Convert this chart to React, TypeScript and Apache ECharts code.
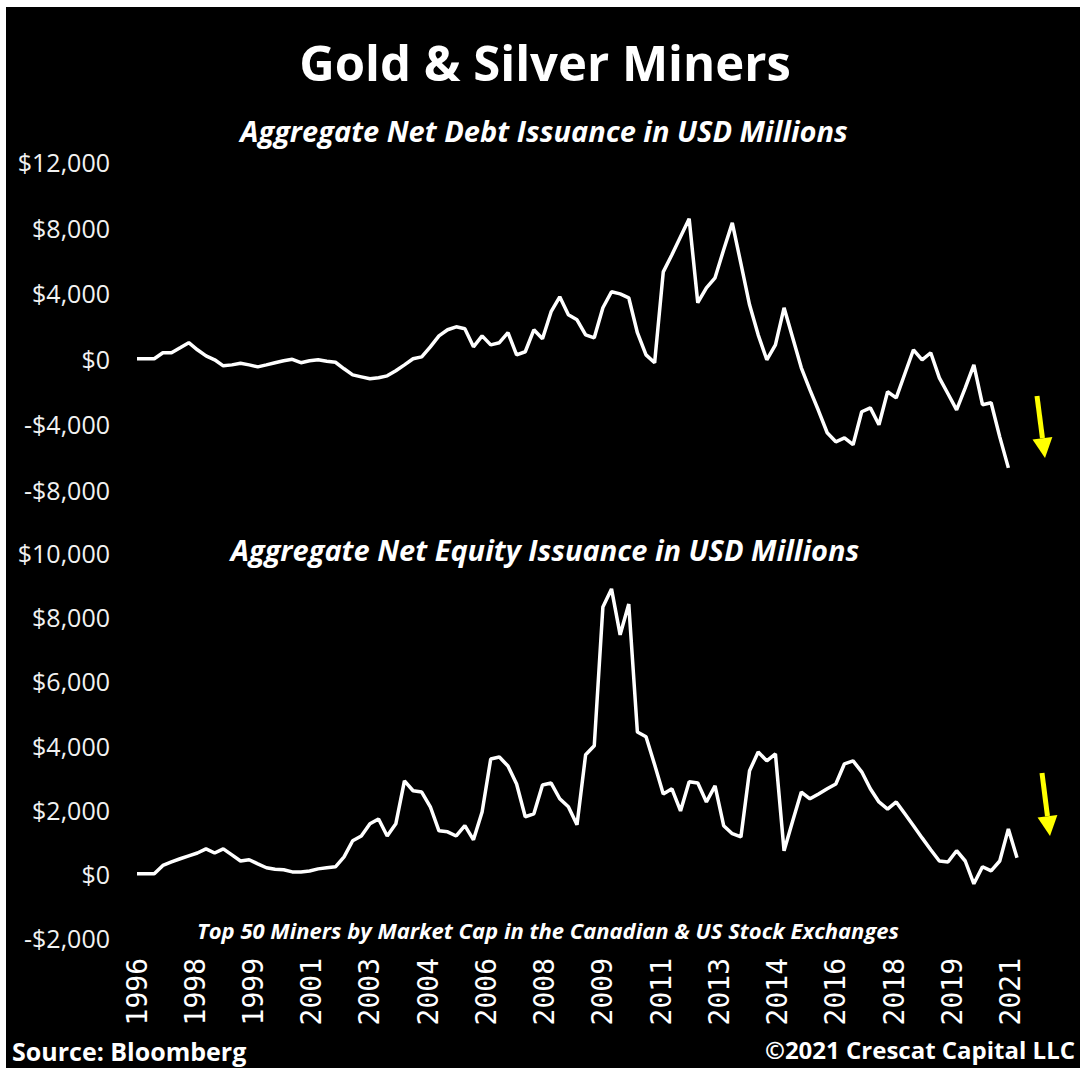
import React, { useEffect, useRef } from "react";
import * as echarts from "echarts";

// Aggregate Net Debt Issuance (USD millions), quarterly from 1996
const debtIssuance = [
  0, 0, 0, 370, 370, 670, 980, 550, 180, -60,
  -430, -370, -270, -370, -490, -370, -240, -120, -30, -240,
  -120, -60, -150, -210, -610, -980, -1100, -1220, -1160, -1040,
  -730, -370, 0, 120, 730, 1400, 1770, 1950, 1830, 730,
  1400, 850, 980, 1590, 240, 430, 1770, 1220, 2870, 3780,
  2680, 2380, 1460, 1280, 3110, 4090, 3960, 3720, 1590, 240,
  -240, 5300, 6340, 7440, 8540, 3420, 4330, 4940, 6650, 8290,
  5800, 3290, 1460, -60, 850, 3110, 1280, -550, -1890, -3170,
  -4510, -5060, -4820, -5240, -3230, -2990, -4020, -2010, -2380, -910,
  550, -60, 370, -1160, -2130, -3110, -1770, -370, -2800, -2680,
  -4760, -6650,
];

// Aggregate Net Equity Issuance (USD millions), quarterly from 1996
const equityIssuance = [
  0, 0, 0, 260, 370, 470, 560, 650, 780, 650,
  780, 590, 400, 440, 310, 190, 140, 125, 60, 60,
  90, 155, 190, 220, 530, 1030, 1180, 1560, 1710, 1180,
  1560, 2900, 2590, 2550, 2090, 1340, 1310, 1180, 1500, 1060,
  1930, 3580, 3640, 3360, 2800, 1780, 1870, 2770, 2830, 2340,
  2090, 1530, 3710, 3990, 8320, 8880, 7450, 8410, 4420, 4270,
  3400, 2490, 2650, 1960, 2870, 2830, 2240, 2740, 1500, 1250,
  1150, 3210, 3800, 3520, 3740, 720, 1650, 2550, 2340, 2490,
  2650, 2800, 3430, 3520, 3180, 2650, 2240, 2020, 2240, 1870,
  1500, 1120, 750, 400, 370, 720, 400, -310, 220, 90,
  400, 1400, 500,
];

const xTickLabels = [
  "1996", "1998", "1999", "2001", "2003", "2004", "2006", "2008",
  "2009", "2011", "2013", "2014", "2016", "2018", "2019", "2021",
];

const FONT = '"Open Sans", "Noto Sans", sans-serif';

function money(v: number): string {
  const s = Math.abs(v).toLocaleString("en-US");
  return (v < 0 ? "-$" : "$") + s;
}

export default function App() {
  const ref = useRef<HTMLDivElement>(null);

  useEffect(() => {
    if (!ref.current) return;
    const chart = echarts.init(ref.current, undefined, { renderer: "svg" });

    const lastIndex = equityIssuance.length - 1;
    const labelStep = (lastIndex - 0.75) / (xTickLabels.length - 1);
    const tickPositions = xTickLabels.map((_, k) => k * labelStep);

    const gridLeft = 137;
    const gridRight = 63;

    const yLabel = {
      color: "#f2f2f2",
      fontFamily: FONT,
      fontSize: 25,
      margin: 27,
      formatter: (v: number) => money(v),
    };

    const arrow = (x1: number, y1: number, x2: number, y2: number) => {
      const dx = x2 - x1;
      const dy = y2 - y1;
      const len = Math.sqrt(dx * dx + dy * dy);
      const ux = dx / len;
      const uy = dy / len;
      const headLen = 20;
      const headHalf = 10;
      const bx = x2 - ux * headLen;
      const by = y2 - uy * headLen;
      return [
        {
          type: "line",
          shape: { x1, y1, x2: bx, y2: by },
          style: { stroke: "#ffff00", lineWidth: 5 },
        },
        {
          type: "polygon",
          shape: {
            points: [
              [x2, y2],
              [bx - uy * headHalf, by + ux * headHalf],
              [bx + uy * headHalf, by - ux * headHalf],
            ],
          },
          style: { fill: "#ffff00" },
        },
      ];
    };

    chart.setOption({
      animation: false,
      backgroundColor: "#000000",
      grid: [
        { left: gridLeft, right: gridRight, top: 162, height: 328 },
        { left: gridLeft, right: gridRight, top: 553, height: 385 },
      ],
      xAxis: [
        {
          type: "value",
          gridIndex: 0,
          min: 0,
          max: lastIndex,
          axisLine: { show: false },
          axisTick: { show: false },
          splitLine: { show: false },
          axisLabel: { show: false },
        },
        {
          type: "value",
          gridIndex: 1,
          min: 0,
          max: lastIndex,
          axisLine: { show: false },
          axisTick: { show: false },
          splitLine: { show: false },
          axisLabel: {
            show: true,
            customValues: tickPositions,
            rotate: 90,
            color: "#ffffff",
            fontFamily: '"DejaVu Sans Mono", monospace',
            fontWeight: "normal",
            fontSize: 28,
            margin: 20,
            formatter: (v: number) => xTickLabels[Math.round(v / labelStep)] ?? "",
          },
        },
      ],
      yAxis: [
        {
          type: "value",
          gridIndex: 0,
          min: -8000,
          max: 12000,
          interval: 4000,
          axisLine: { show: false },
          axisTick: { show: false },
          splitLine: { show: false },
          axisLabel: yLabel,
        },
        {
          type: "value",
          gridIndex: 1,
          min: -2000,
          max: 10000,
          interval: 2000,
          axisLine: { show: false },
          axisTick: { show: false },
          splitLine: { show: false },
          axisLabel: yLabel,
        },
      ],
      series: [
        {
          name: "Aggregate Net Debt Issuance",
          type: "line",
          xAxisIndex: 0,
          yAxisIndex: 0,
          data: debtIssuance.map((v, i) => [i, v]),
          showSymbol: false,
          lineStyle: { color: "#ffffff", width: 3.5 },
        },
        {
          name: "Aggregate Net Equity Issuance",
          type: "line",
          xAxisIndex: 1,
          yAxisIndex: 1,
          data: equityIssuance.map((v, i) => [i, v]),
          showSymbol: false,
          lineStyle: { color: "#ffffff", width: 3.5 },
        },
      ],
      graphic: [
        { type: "rect", shape: { x: 0, y: 0, width: 1080, height: 7 }, style: { fill: "#ffffff" } },
        { type: "rect", shape: { x: 0, y: 0, width: 6, height: 1068 }, style: { fill: "#ffffff" } },
        {
          type: "text",
          x: 545,
          y: 62,
          style: {
            text: "Gold & Silver Miners",
            fill: "#ffffff",
            font: `bold 49px ${FONT}`,
            textAlign: "center",
            textVerticalAlign: "middle",
          },
        },
        {
          type: "text",
          x: 544,
          y: 130,
          style: {
            text: "Aggregate Net Debt Issuance in USD Millions",
            fill: "#ffffff",
            font: `italic bold 29px ${FONT}`,
            textAlign: "center",
            textVerticalAlign: "middle",
          },
        },
        {
          type: "text",
          x: 545,
          y: 549,
          style: {
            text: "Aggregate Net Equity Issuance in USD Millions",
            fill: "#ffffff",
            font: `italic bold 29px ${FONT}`,
            textAlign: "center",
            textVerticalAlign: "middle",
          },
        },
        {
          type: "text",
          x: 548,
          y: 930,
          style: {
            text: "Top 50 Miners by Market Cap in the Canadian & US Stock Exchanges",
            fill: "#ffffff",
            font: `italic bold 22px ${FONT}`,
            textAlign: "center",
            textVerticalAlign: "middle",
          },
        },
        {
          type: "text",
          x: 12,
          y: 1051,
          style: {
            text: "Source: Bloomberg",
            fill: "#ffffff",
            font: `bold 25px ${FONT}`,
            textAlign: "left",
            textVerticalAlign: "middle",
          },
        },
        {
          type: "text",
          x: 1075,
          y: 1049,
          style: {
            text: "©2021 Crescat Capital LLC",
            fill: "#ffffff",
            font: `bold 24px ${FONT}`,
            textAlign: "right",
            textVerticalAlign: "middle",
          },
        },
        ...arrow(1037, 396, 1045, 458),
        ...arrow(1042, 773, 1050, 836),
      ],
    });

    return () => chart.dispose();
  }, []);

  return (
    <div
      ref={ref}
      style={{ position: "fixed", left: 0, top: 0, width: 1080, height: 1068 }}
    />
  );
}
